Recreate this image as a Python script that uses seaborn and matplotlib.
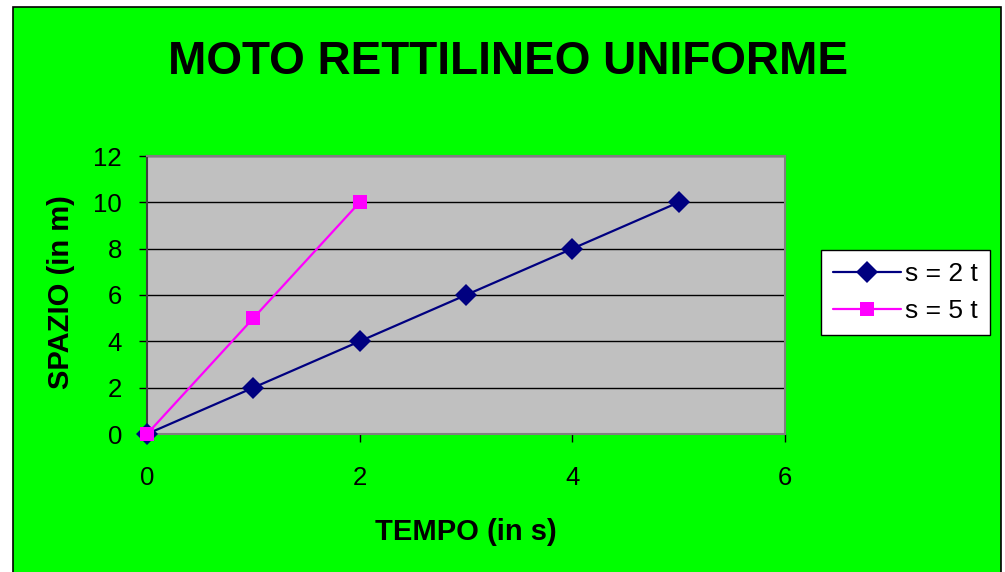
import matplotlib
matplotlib.use("Agg")
import matplotlib.pyplot as plt
from matplotlib.patches import Rectangle
import seaborn as sns
import pandas as pd

# Data
tempo_a = [0, 1, 2, 3, 4, 5]
spazio_a = [0, 2, 4, 6, 8, 10]
tempo_b = [0, 1, 2]
spazio_b = [0, 5, 10]
series_names = ["s = 2 t", "s = 5 t"]
x_ticks = [0, 2, 4, 6]
y_ticks = [0, 2, 4, 6, 8, 10, 12]

df = pd.concat([
    pd.DataFrame({"t": tempo_a, "s": spazio_a, "serie": series_names[0]}),
    pd.DataFrame({"t": tempo_b, "s": spazio_b, "serie": series_names[1]}),
], ignore_index=True)

sns.set_style("white")
plt.rcParams["font.family"] = ["Liberation Sans", "DejaVu Sans"]
plt.rcParams["text.color"] = "black"
plt.rcParams["axes.labelcolor"] = "black"
plt.rcParams["xtick.color"] = "black"
plt.rcParams["ytick.color"] = "black"

fig = plt.figure(figsize=(10.05, 5.72), dpi=100)
fig.patch.set_facecolor("white")

# green chart area with black frame, drawn beneath the axes
fig.patches.append(Rectangle((13 / 1005, -0.02), (1001 - 13) / 1005, 1.02 - 7 / 572,
                             transform=fig.transFigure, facecolor="#00FF00",
                             edgecolor="black", linewidth=1.2, zorder=-10))

ax = fig.add_axes([147 / 1005, 1 - 434 / 572, (785 - 147) / 1005, (434 - 156) / 572])
ax.set_zorder(1)
ax.set_facecolor("#C0C0C0")

palette = {series_names[0]: "#000080", series_names[1]: "#FF00FF"}
markers = {series_names[0]: "D", series_names[1]: "s"}
marker_sizes = {"#000080": 11, "#FF00FF": 9.5}
sns.lineplot(data=df, x="t", y="s", hue="serie", style="serie", palette=palette,
             markers=markers, dashes=False, markersize=10, linewidth=1.6,
             markeredgewidth=0, ax=ax, legend=True, clip_on=False, zorder=3)
for line in ax.lines:
    c = matplotlib.colors.to_hex(line.get_color()).upper()
    if c in marker_sizes:
        line.set_markersize(marker_sizes[c])

ax.set_xlim(0, 6)
ax.set_ylim(0, 12)
ax.set_xticks(x_ticks)
ax.set_yticks(y_ticks)
ax.tick_params(axis="both", labelsize=18.5, direction="out", length=6, width=1,
               color="black", pad=12, bottom=True, left=True)
ax.tick_params(axis="x", pad=17)
ax.yaxis.grid(True, color="black", linewidth=1)
ax.xaxis.grid(False)
ax.set_axisbelow(True)
for side in ["top", "right", "bottom"]:
    ax.spines[side].set_color("#808080")
    ax.spines[side].set_linewidth(1.5)
ax.spines["left"].set_color("#404040")
ax.spines["left"].set_linewidth(1.5)

ax.set_xlabel("TEMPO (in s)", fontsize=21, fontweight="bold", labelpad=20)
ax.set_ylabel("SPAZIO (in m)", fontsize=21, fontweight="bold")
ax.yaxis.set_label_coords(-0.113, 0.51)

fig.text(508 / 1005, 1 - 62 / 572, "MOTO RETTILINEO UNIFORME", fontsize=33,
         fontweight="bold", ha="center", va="center")

handles, labels = ax.get_legend_handles_labels()
for h in handles:
    c = matplotlib.colors.to_hex(h.get_color()).upper()
    if c in marker_sizes:
        h.set_markersize(marker_sizes[c])
ax.legend(handles, labels, loc="upper left",
          bbox_to_anchor=(821 / 1005, 1 - 250 / 572), bbox_transform=fig.transFigure,
          fontsize=19, frameon=True, fancybox=False, framealpha=1,
          edgecolor="black", facecolor="white", handlelength=2.6,
          handletextpad=0.15, borderpad=0.45, labelspacing=0.5, borderaxespad=0)
ax.get_legend().get_frame().set_linewidth(1)

fig.savefig("out.png", dpi=100, facecolor=fig.get_facecolor())
